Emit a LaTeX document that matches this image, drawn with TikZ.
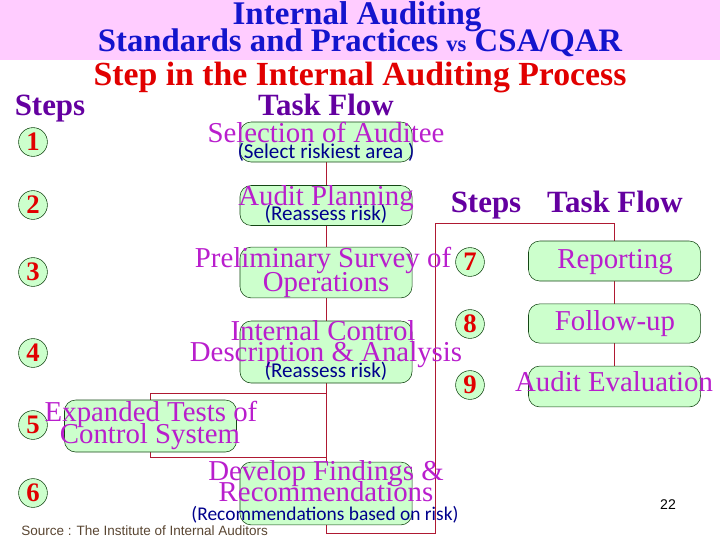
\documentclass[tikz,border=0pt]{standalone}
\usepackage{fontspec}
\setmainfont{Liberation Serif}
\newfontfamily\notefont{Carlito}
\newfontfamily\srcfont{Liberation Sans}
\usepackage{xcolor}
\usetikzlibrary{positioning, backgrounds}
\definecolor{bandpink}{RGB}{255, 204, 255}
\definecolor{titleblue}{RGB}{20, 20, 205}
\definecolor{headred}{RGB}{225, 0, 0}
\definecolor{headpurple}{RGB}{100, 0, 160}
\definecolor{taskmag}{RGB}{185, 30, 205}
\definecolor{noteblue}{RGB}{0, 0, 140}
\definecolor{boxgreen}{RGB}{204, 255, 204}
\definecolor{edgegreen}{RGB}{20, 70, 20}
\definecolor{linkred}{RGB}{175, 25, 50}
\definecolor{srcgray}{RGB}{90, 70, 50}
\tikzstyle{taskbox} = [rectangle, rounded corners=8pt, minimum width=4.3cm, draw=edgegreen, fill=boxgreen, thin, inner sep=0pt]
\tikzstyle{stepnum} = [circle, minimum size=0.72cm, inner sep=0pt, draw=edgegreen, fill=boxgreen, text=headred, font=\fontsize{19}{19}\selectfont\bfseries]
\tikzstyle{tasktext} = [anchor=base, text=taskmag, font=\fontsize{20.5}{20}\selectfont, inner sep=0pt]
\tikzstyle{notetext} = [anchor=base, text=noteblue, font=\notefont\fontsize{15}{15}\selectfont, inner sep=0pt]
\tikzstyle{headtext} = [anchor=base, text=headpurple, font=\fontsize{22}{22}\selectfont\bfseries, inner sep=0pt]
\tikzstyle{link} = [linkred, thin]

\begin{document}
\begin{tikzpicture}[x=0.025cm, y=-0.025cm]
    \useasboundingbox (0,0) rectangle (720,540);
    % Title band
    \fill[bandpink] (0,0) rectangle (720,60);
    \node (title1) [anchor=base, inner sep=0pt, text=titleblue, font=\fontsize{23.5}{24}\selectfont\bfseries] at (357,24.5) {Internal Auditing};
    \node (title2) [anchor=base, inner sep=0pt, text=titleblue, font=\fontsize{23.3}{24}\selectfont\bfseries] at (360,51) {Standards and Practices {\fontsize{16}{16}\selectfont vs} CSA/QAR};
    \node (title3) [anchor=base, inner sep=0pt, text=headred, font=\fontsize{24}{24}\selectfont\bfseries] at (360,85) {Step in the Internal Auditing Process};

    % Column heads
    \node (hsteps) [headtext] at (50,115) {Steps};
    \node (hflow) [headtext] at (326,115) {Task Flow};
    \node (hsteps2) [headtext] at (486,212) {Steps};
    \node (hflow2) [headtext] at (615,212) {Task Flow};

    % Step numbers
    \node (s1) [stepnum] at (33,142) {1};
    \node (s2) [stepnum] at (33,205) {2};
    \node (s3) [stepnum] at (33,272) {3};
    \node (s4) [stepnum] at (33,353) {4};
    \node (s5) [stepnum] at (33,425) {5};
    \node (s6) [stepnum] at (33,493) {6};
    \node (s7) [stepnum] at (470,262) {7};
    \node (s8) [stepnum] at (470,324) {8};
    \node (s9) [stepnum] at (470,385) {9};

    % Task boxes
    \node (b1) [taskbox, minimum height=1.0cm] at (326,142) {};
    \node (b2) [taskbox, minimum height=1.0cm] at (326,205.5) {};
    \node (b3) [taskbox, minimum height=1.27cm] at (326,272.5) {};
    \node (b4) [taskbox, minimum height=1.55cm] at (326,352) {};
    \node (b5) [taskbox, minimum height=1.3cm] at (150.5,426) {};
    \node (b6) [taskbox, minimum height=1.57cm] at (326,493.5) {};
    \node (b7) [taskbox, minimum height=1.0cm] at (614.5,261) {};
    \node (b8) [taskbox, minimum height=0.98cm] at (614.5,323.5) {};
    \node (b9) [taskbox, minimum height=1.02cm] at (614.5,386.5) {};

    % Corners of the flow lines
    \coordinate (j1) at (326,393);
    \coordinate (j2) at (326,457);
    \coordinate (c1) at (326,533);
    \coordinate (c2) at (435,533);
    \coordinate (c3) at (435,223);

    % Links
    \begin{scope}[on background layer]
        \draw [link] (b1) -- (b2);
        \draw [link] (b2) -- (b3);
        \draw [link] (b3) -- (b4);
        \draw [link] (b4.south) -- (c1) -- (c2) -- (c3) -| (b7.north);
        \draw [link] (j1) -| (b5.north);
        \draw [link] (b5.south) |- (j2);
        \draw [link] (b7) -- (b8);
        \draw [link] (b8) -- (b9);
    \end{scope}

    % Task texts
    \node (t1) [tasktext] at (326,142) {Selection of Auditee};
    \node (n1) [notetext] at (326,158) {(Select riskiest area )};
    \node (t2) [tasktext] at (326,205) {Audit Planning};
    \node (n2) [notetext] at (326,220) {(Reassess risk)};
    \node (t3a) [tasktext] at (323,267) {Preliminary Survey of};
    \node (t3b) [tasktext] at (326,291.5) {Operations};
    \node (t4a) [tasktext] at (323,340) {Internal Control};
    \node (t4b) [tasktext] at (326,361.5) {Description \& Analysis};
    \node (n4) [notetext] at (326,377) {(Reassess risk)};
    \node (t5a) [tasktext] at (151,421.5) {Expanded Tests of};
    \node (t5b) [tasktext] at (150,443) {Control System};
    \node (t6a) [tasktext] at (326,480) {Develop Findings \&};
    \node (t6b) [tasktext] at (326,501.5) {Recommendations};
    \node (n6) [notetext, font=\notefont\fontsize{13.8}{14}\selectfont] at (325,520) {(Recommendations based on risk)};
    \node (t7) [tasktext] at (615,268) {Reporting};
    \node (t8) [tasktext] at (615,330) {Follow-up};
    \node (t9) [tasktext] at (614,391.5) {Audit Evaluation};

    % Footer
    \node (src) [anchor=base west, inner sep=0pt, text=srcgray, font=\srcfont\fontsize{9.6}{10}\selectfont] at (21,535) {Source : The Institute of Internal Auditors};
    \node (pg) [anchor=base, inner sep=0pt, font=\srcfont\fontsize{10}{10}\selectfont] at (668,509) {22};
\end{tikzpicture}
\end{document}
